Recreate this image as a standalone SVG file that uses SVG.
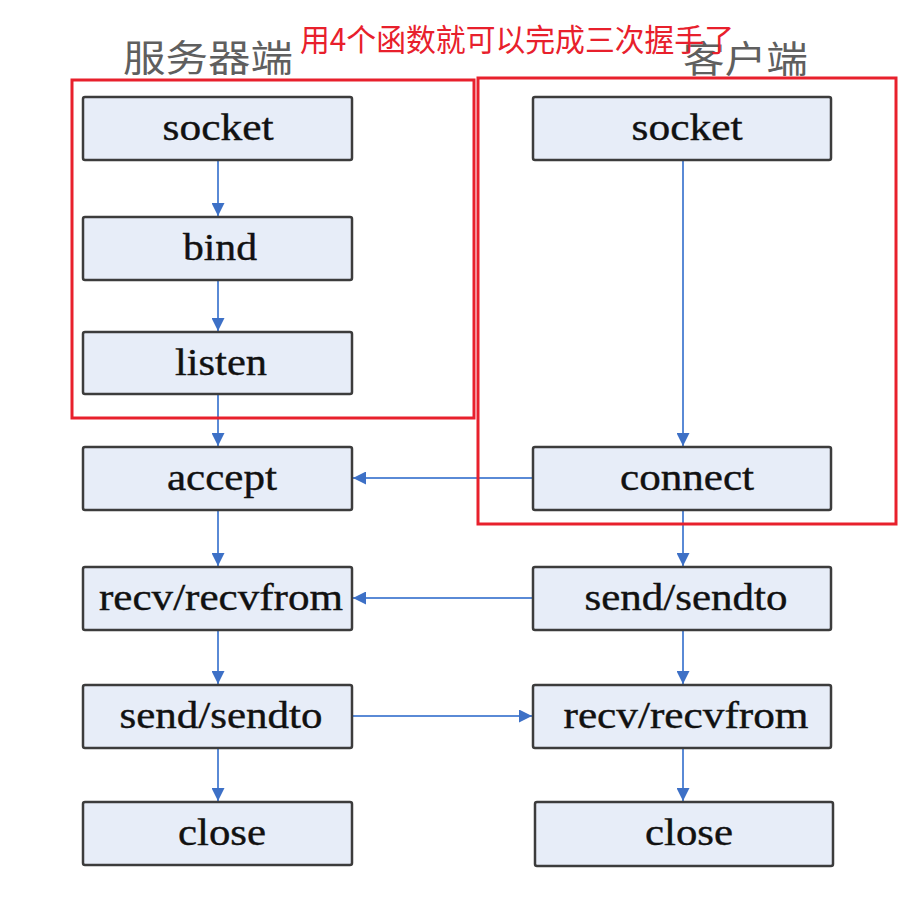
<svg xmlns="http://www.w3.org/2000/svg" width="921" height="916" viewBox="0 0 921 916">
<style>
.box{fill:#e7edf8;stroke:#3c3c3c;stroke-width:2.5}
.lbl{font-family:"Liberation Serif","DejaVu Serif",serif;font-size:38px;fill:#111111;stroke:#111111;stroke-width:0.4;text-anchor:middle}
.title{font-family:"Noto Sans CJK SC",sans-serif;font-size:37px;fill:#5f5f5f}
.red{fill:none;stroke:#e8202c;stroke-width:3}
.conn{stroke:#5a8ad6;stroke-width:2;fill:none;marker-end:url(#ah)}
</style>
<defs>
<marker id="ah" viewBox="0 0 10 10" refX="10" refY="5" markerWidth="6.5" markerHeight="6.5" markerUnits="strokeWidth" orient="auto">
<path d="M0,0 L10,5 L0,10 z" fill="#3d70c6"/>
</marker>
</defs>
<rect width="921" height="916" fill="#ffffff"/>
<g id="titles">
<text class="title" x="123" y="72" textLength="170" lengthAdjust="spacingAndGlyphs">服务器端</text>
<text class="title" x="683" y="73" textLength="125" lengthAdjust="spacingAndGlyphs">客户端</text>
</g>
<g id="connectors">
<line class="conn" x1="218" y1="161" x2="218" y2="216"/>
<line class="conn" x1="218" y1="281" x2="218" y2="331"/>
<line class="conn" x1="218" y1="395" x2="218" y2="446"/>
<line class="conn" x1="218" y1="511" x2="218" y2="566"/>
<line class="conn" x1="218" y1="631" x2="218" y2="684"/>
<line class="conn" x1="218" y1="749" x2="218" y2="801"/>
<line class="conn" x1="683" y1="161" x2="683" y2="446"/>
<line class="conn" x1="683" y1="511" x2="683" y2="566"/>
<line class="conn" x1="683" y1="631" x2="683" y2="684"/>
<line class="conn" x1="683" y1="749" x2="683" y2="801"/>
<line class="conn" x1="533" y1="478" x2="353" y2="478"/>
<line class="conn" x1="533" y1="598" x2="353" y2="598"/>
<line class="conn" x1="353" y1="716" x2="532" y2="716"/>
</g>
<g id="s-socket"><rect class="box" x="83" y="97" width="269" height="63" rx="2"/><text class="lbl" x="218" y="140" textLength="111" lengthAdjust="spacingAndGlyphs">socket</text></g>
<g id="s-bind"><rect class="box" x="83" y="217" width="269" height="63" rx="2"/><text class="lbl" x="220" y="260" textLength="74" lengthAdjust="spacingAndGlyphs">bind</text></g>
<g id="s-listen"><rect class="box" x="83" y="332" width="269" height="62" rx="2"/><text class="lbl" x="221" y="375" textLength="92" lengthAdjust="spacingAndGlyphs">listen</text></g>
<g id="s-accept"><rect class="box" x="83" y="447" width="269" height="63" rx="2"/><text class="lbl" x="222" y="490" textLength="110" lengthAdjust="spacingAndGlyphs">accept</text></g>
<g id="s-recv"><rect class="box" x="83" y="567" width="269" height="63" rx="2"/><text class="lbl" x="221" y="610" textLength="244" lengthAdjust="spacingAndGlyphs">recv/recvfrom</text></g>
<g id="s-send"><rect class="box" x="83" y="685" width="269" height="63" rx="2"/><text class="lbl" x="221" y="728" textLength="203" lengthAdjust="spacingAndGlyphs">send/sendto</text></g>
<g id="s-close"><rect class="box" x="83" y="802" width="269" height="63" rx="2"/><text class="lbl" x="222" y="845" textLength="88" lengthAdjust="spacingAndGlyphs">close</text></g>
<g id="c-socket"><rect class="box" x="533" y="97" width="298" height="63" rx="2"/><text class="lbl" x="687" y="140" textLength="111" lengthAdjust="spacingAndGlyphs">socket</text></g>
<g id="c-connect"><rect class="box" x="533" y="447" width="298" height="63" rx="2"/><text class="lbl" x="687" y="490" textLength="134" lengthAdjust="spacingAndGlyphs">connect</text></g>
<g id="c-send"><rect class="box" x="533" y="567" width="298" height="63" rx="2"/><text class="lbl" x="686" y="610" textLength="203" lengthAdjust="spacingAndGlyphs">send/sendto</text></g>
<g id="c-recv"><rect class="box" x="533" y="685" width="298" height="63" rx="2"/><text class="lbl" x="686" y="728" textLength="245" lengthAdjust="spacingAndGlyphs">recv/recvfrom</text></g>
<g id="c-close"><rect class="box" x="535" y="802" width="298" height="64" rx="2"/><text class="lbl" x="689" y="845" textLength="88" lengthAdjust="spacingAndGlyphs">close</text></g>
<g id="highlight">
<rect class="red" x="72" y="80" width="402" height="338"/>
<rect class="red" x="478" y="78" width="418" height="446"/>
<text x="300" y="51" font-family="'Noto Sans CJK SC',sans-serif" font-size="31" fill="#e8202c" textLength="434" lengthAdjust="spacingAndGlyphs">用4个函数就可以完成三次握手了</text>
</g>
</svg>
